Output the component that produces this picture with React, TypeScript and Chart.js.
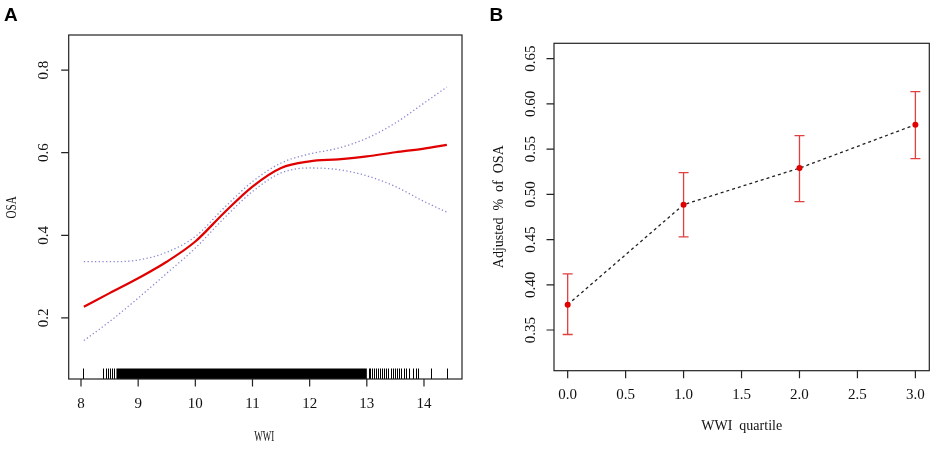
import { useEffect, useRef } from "react";
import { Chart, registerables } from "chart.js";
import type { Plugin } from "chart.js";

Chart.register(...registerables);

// ---- Panel A: smooth curve fit of OSA against WWI ----
const wwi = [8.05, 8.5, 9, 9.5, 10, 10.5, 11, 11.5, 12, 12.5, 13, 13.5, 14, 14.4];
const osaFit = [0.227, 0.26, 0.296, 0.336, 0.385, 0.454, 0.518, 0.563, 0.579, 0.584, 0.591, 0.601, 0.61, 0.619];
const osaUpper = [0.336, 0.336, 0.34, 0.359, 0.397, 0.466, 0.53, 0.575, 0.597, 0.611, 0.635, 0.672, 0.72, 0.759];
const osaLower = [0.145, 0.191, 0.248, 0.308, 0.369, 0.441, 0.506, 0.551, 0.563, 0.559, 0.544, 0.518, 0.482, 0.456];

// rug marks along the x axis (single ticks + the solid band)
const rugSingle = [
  8.035, 8.39, 8.43, 8.47, 8.51, 8.55, 8.58,
  13.03, 13.06, 13.09, 13.13, 13.16, 13.2, 13.23, 13.27, 13.3, 13.34, 13.37, 13.42,
  13.45, 13.49, 13.53, 13.57, 13.6, 13.65, 13.69, 13.74, 13.8, 13.86, 13.9, 14.13, 14.41,
];
const rugBand = [8.62, 13.0];

const xTicksA = [8, 9, 10, 11, 12, 13, 14];
const yTicksA = [0.2, 0.4, 0.6, 0.8];

// ---- Panel B: adjusted % of OSA by WWI quartile ----
const quartile = [0, 1, 2, 3];
const adjOsa = [0.378, 0.4886, 0.529, 0.577];
const ciLow = [0.345, 0.453, 0.492, 0.5395];
const ciHigh = [0.412, 0.524, 0.565, 0.6135];

const xTicksB = [0, 0.5, 1, 1.5, 2, 2.5, 3];
const yTicksB = [0.35, 0.4, 0.45, 0.5, 0.55, 0.6, 0.65];

const SERIF = "'Liberation Serif', 'DejaVu Serif', serif";

function drawText(
  ctx: CanvasRenderingContext2D,
  text: string,
  x: number,
  y: number,
  font: string,
  rotated = false,
  sx = 1
) {
  ctx.save();
  ctx.translate(x, y);
  if (rotated) ctx.rotate(-Math.PI / 2);
  ctx.scale(sx, 1);
  ctx.font = font;
  ctx.fillStyle = "#111";
  ctx.textAlign = "center";
  ctx.textBaseline = "middle";
  ctx.fillText(text, 0, 0);
  ctx.restore();
}

interface AxesCfg {
  letter: string;
  letterX: number;
  xTicks: number[];
  xLabels: string[];
  yTicks: number[];
  yLabels: string[];
  xGap: number; // distance from box bottom to tick label centre
  yGap: number; // distance from box left to tick label centre
  tickFont: string;
  tickSx: number;
  xTitle: string;
  xTitlePos: [number, number];
  xTitleSx: number;
  yTitle: string;
  yTitlePos: [number, number];
  yTitleSx: number;
  titleFont: string;
}

// R-style box, outward ticks, rotated y labels
function rAxes(cfg: AxesCfg): Plugin<"line"> {
  return {
    id: "rAxes",
    afterDraw(chart) {
      const { ctx, chartArea: a, scales } = chart;
      const xs = scales.x;
      const ys = scales.y;
      const tl = 7.5;
      ctx.save();
      ctx.strokeStyle = "#222";
      ctx.lineWidth = 1.2;
      ctx.strokeRect(a.left, a.top, a.right - a.left, a.bottom - a.top);
      ctx.beginPath();
      cfg.xTicks.forEach((v) => {
        const px = xs.getPixelForValue(v);
        ctx.moveTo(px, a.bottom);
        ctx.lineTo(px, a.bottom + tl);
      });
      cfg.yTicks.forEach((v) => {
        const py = ys.getPixelForValue(v);
        ctx.moveTo(a.left, py);
        ctx.lineTo(a.left - tl, py);
      });
      ctx.stroke();
      ctx.restore();

      cfg.xTicks.forEach((v, i) => {
        drawText(ctx, cfg.xLabels[i], xs.getPixelForValue(v), a.bottom + cfg.xGap, cfg.tickFont, false, cfg.tickSx);
      });
      cfg.yTicks.forEach((v, i) => {
        drawText(ctx, cfg.yLabels[i], a.left - cfg.yGap, ys.getPixelForValue(v), cfg.tickFont, true, cfg.tickSx);
      });
      drawText(ctx, cfg.xTitle, cfg.xTitlePos[0], cfg.xTitlePos[1], cfg.titleFont, false, cfg.xTitleSx);
      drawText(ctx, cfg.yTitle, cfg.yTitlePos[0], cfg.yTitlePos[1], cfg.titleFont, true, cfg.yTitleSx);

      ctx.save();
      ctx.font = "bold 19px 'Liberation Sans', Arial, sans-serif";
      ctx.fillStyle = "#000";
      ctx.textAlign = "left";
      ctx.textBaseline = "alphabetic";
      ctx.fillText(cfg.letter, cfg.letterX, 21);
      ctx.restore();
    },
  };
}

const rugPlugin: Plugin<"line"> = {
  id: "rug",
  afterDatasetsDraw(chart) {
    const { ctx, chartArea: a, scales } = chart;
    const xs = scales.x;
    const h = 10.5;
    ctx.save();
    ctx.fillStyle = "#000";
    const b0 = xs.getPixelForValue(rugBand[0]);
    const b1 = xs.getPixelForValue(rugBand[1]);
    ctx.fillRect(b0, a.bottom - h, b1 - b0, h);
    ctx.strokeStyle = "#000";
    ctx.lineWidth = 1;
    ctx.beginPath();
    rugSingle.forEach((v) => {
      const px = Math.round(xs.getPixelForValue(v)) + 0.5;
      ctx.moveTo(px, a.bottom);
      ctx.lineTo(px, a.bottom - h);
    });
    ctx.stroke();
    ctx.restore();
  },
};

const errorBars: Plugin<"line"> = {
  id: "errorBars",
  beforeDatasetsDraw(chart) {
    const { ctx, scales } = chart;
    const xs = scales.x;
    const ys = scales.y;
    const cap = 5;
    ctx.save();
    ctx.strokeStyle = "#e04040";
    ctx.lineWidth = 1.3;
    ctx.beginPath();
    quartile.forEach((q, i) => {
      const px = xs.getPixelForValue(q);
      const lo = ys.getPixelForValue(ciLow[i]);
      const hi = ys.getPixelForValue(ciHigh[i]);
      ctx.moveTo(px, lo);
      ctx.lineTo(px, hi);
      ctx.moveTo(px - cap, lo);
      ctx.lineTo(px + cap, lo);
      ctx.moveTo(px - cap, hi);
      ctx.lineTo(px + cap, hi);
    });
    ctx.stroke();
    ctx.restore();
  },
};

function PanelA() {
  const ref = useRef<HTMLCanvasElement | null>(null);
  useEffect(() => {
    if (!ref.current) return;
    const pts = (ys: number[]) => wwi.map((x, i) => ({ x, y: ys[i] }));
    const chart = new Chart(ref.current, {
      type: "line",
      data: {
        datasets: [
          {
            data: pts(osaUpper),
            borderColor: "#8a8ad2",
            borderWidth: 1.3,
            borderDash: [1.3, 2.4],
            pointRadius: 0,
            cubicInterpolationMode: "monotone",
          },
          {
            data: pts(osaLower),
            borderColor: "#8a8ad2",
            borderWidth: 1.3,
            borderDash: [1.3, 2.4],
            pointRadius: 0,
            cubicInterpolationMode: "monotone",
          },
          {
            data: pts(osaFit),
            borderColor: "#e00000",
            borderWidth: 2.2,
            pointRadius: 0,
            cubicInterpolationMode: "monotone",
          },
        ],
      },
      options: {
        responsive: false,
        animation: false,
        layout: { padding: { left: 68.7, top: 35, right: 8, bottom: 70 } },
        scales: {
          x: { type: "linear", min: 7.785, max: 14.665, display: false },
          y: { min: 0.052, max: 0.885, display: false },
        },
        plugins: { legend: { display: false }, tooltip: { enabled: false } },
      },
      plugins: [
        rugPlugin,
        rAxes({
          letter: "A",
          letterX: 4,
          xTicks: xTicksA,
          xLabels: xTicksA.map(String),
          yTicks: yTicksA,
          yLabels: yTicksA.map((v) => v.toFixed(1)),
          xGap: 25.3,
          yGap: 24.4,
          tickFont: `15px ${SERIF}`,
          tickSx: 1,
          xTitle: "WWI",
          xTitlePos: [264.3, 437],
          xTitleSx: 0.6,
          yTitle: "OSA",
          yTitlePos: [11.7, 207.3],
          yTitleSx: 0.74,
          titleFont: `15px ${SERIF}`,
        }),
      ],
    });
    return () => chart.destroy();
  }, []);
  return <canvas ref={ref} width={470} height={449} style={{ position: "absolute", left: 0, top: 0 }} />;
}

function PanelB() {
  const ref = useRef<HTMLCanvasElement | null>(null);
  useEffect(() => {
    if (!ref.current) return;
    const chart = new Chart(ref.current, {
      type: "line",
      data: {
        datasets: [
          {
            data: quartile.map((x, i) => ({ x, y: adjOsa[i] })),
            borderColor: "#222",
            borderWidth: 1.3,
            borderDash: [3, 3],
            pointRadius: 3,
            pointBackgroundColor: "#e00000",
            pointBorderWidth: 0,
            tension: 0,
          },
        ],
      },
      options: {
        responsive: false,
        animation: false,
        layout: { padding: { left: 84, top: 43.3, right: 6.7, bottom: 78.3 } },
        scales: {
          x: { type: "linear", min: -0.118, max: 3.12, display: false },
          y: { min: 0.305, max: 0.667, display: false },
        },
        plugins: { legend: { display: false }, tooltip: { enabled: false } },
      },
      plugins: [
        errorBars,
        rAxes({
          letter: "B",
          letterX: 19.5,
          xTicks: xTicksB,
          xLabels: xTicksB.map((v) => v.toFixed(1)),
          yTicks: yTicksB,
          yLabels: yTicksB.map((v) => v.toFixed(2)),
          xGap: 24.3,
          yGap: 22.7,
          tickFont: `15px ${SERIF}`,
          tickSx: 1,
          xTitle: "WWI  quartile",
          xTitlePos: [271.7, 426.7],
          xTitleSx: 1,
          yTitle: "Adjusted  %  of  OSA",
          yTitlePos: [29.3, 206.7],
          yTitleSx: 1,
          titleFont: `14px ${SERIF}`,
        }),
      ],
    });
    return () => chart.destroy();
  }, []);
  return <canvas ref={ref} width={466} height={449} style={{ position: "absolute", left: 470, top: 0 }} />;
}

export default function App() {
  return (
    <div style={{ position: "fixed", left: 0, top: 0, width: 936, height: 449, background: "#fff" }}>
      <PanelA />
      <PanelB />
    </div>
  );
}
